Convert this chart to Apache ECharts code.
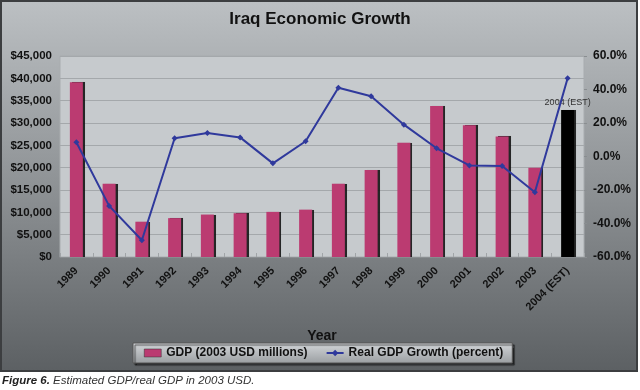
<!DOCTYPE html>
<html>
<head>
<meta charset="utf-8">
<script src="https://cdn.jsdelivr.net/npm/echarts@6/dist/echarts.min.js"></script>
<style>
html,body{margin:0;padding:0;background:#fff;}
#c{width:640px;height:390px;}
</style>
</head>
<body>
<div id="c"></div>
<script>
const categories = ['1989','1990','1991','1992','1993','1994','1995','1996','1997','1998','1999','2000','2001','2002','2003','2004 (EST)'];
const gdpValues = [39100, 16400, 7900, 8700, 9500, 9800, 10100, 10600, 16400, 19500, 25600, 33800, 29500, 27000, 20000, 32900];
const growthValues = [8.5, -29.5, -50.0, 10.9, 14.0, 11.4, -4.1, 9.1, 41.0, 36.0, 19.0, 4.9, -5.3, -5.7, -21.4, 46.7];
const leftTicks = {min: 0, max: 45000, interval: 5000};
const rightTicks = {min: -60, max: 60, interval: 20};
const captionBold = 'Figure 6.';
const captionText = ' Estimated GDP/real GDP in 2003 USD.';

const FONT = 'Liberation Sans, Arial, sans-serif';
const chart = echarts.init(document.getElementById('c'), null, {renderer: 'canvas'});

const barData = gdpValues.map((v, i) => {
  if (i === gdpValues.length - 1) {
    return {
      value: v,
      itemStyle: {color: '#000000'},
      label: {show: true, position: 'top', distance: 3, formatter: categories[i],
        fontSize: 9, color: '#333', fontFamily: FONT}
    };
  }
  return v;
});

const option = {
  animation: false,
  graphic: [
    {type: 'rect', z: -10, shape: {x: 1, y: 1, width: 636, height: 370},
      style: {
        fill: new echarts.graphic.LinearGradient(0, 0, 0, 1, [
          {offset: 0, color: '#bcc0c3'},
          {offset: 0.5, color: '#8e9295'},
          {offset: 1, color: '#5c6063'}
        ]),
        stroke: '#3c3e40', lineWidth: 2
      }},
    {type: 'text', left: 2, top: 375, z: 10,
      style: {
        text: '{b|' + captionBold + '}{n|' + captionText + '}',
        rich: {
          b: {fontFamily: FONT, fontSize: 11.5, fontWeight: 'bold', fontStyle: 'italic', fill: '#222'},
          n: {fontFamily: FONT, fontSize: 11.5, fontStyle: 'italic', fill: '#333'}
        }
      }}
  ],
  title: {
    text: 'Iraq Economic Growth', left: 'center', top: 6,
    textStyle: {fontFamily: FONT, fontSize: 17, fontWeight: 'bold', color: '#111'}
  },
  legend: {
    left: 133, top: 343, width: 500, orient: 'horizontal',
    padding: [4, 9, 4, 11],
    itemGap: 18, itemWidth: 17, itemHeight: 8,
    backgroundColor: new echarts.graphic.LinearGradient(0, 0, 0, 1, [
      {offset: 0, color: '#d4d7da'},
      {offset: 1, color: '#9a9ea1'}
    ]),
    borderColor: '#555', borderWidth: 1,
    shadowColor: 'rgba(0,0,0,0.6)', shadowOffsetX: 2, shadowOffsetY: 2, shadowBlur: 1,
    textStyle: {fontFamily: FONT, fontSize: 12, fontWeight: 'bold', color: '#111'},
    data: [
      {name: 'GDP (2003 USD millions)', icon: 'rect', itemStyle: {color: '#bb3b71', borderColor: '#333', borderWidth: 0.5}},
      {name: 'Real GDP Growth (percent)'}
    ]
  },
  grid: {left: 60, right: 56, top: 56, bottom: 133,
    show: true, backgroundColor: '#c6cacd', borderColor: '#a8acaf', borderWidth: 1},
  xAxis: {
    type: 'category', data: categories,
    name: 'Year', nameLocation: 'middle', nameGap: 72,
    nameTextStyle: {fontFamily: FONT, fontSize: 14, fontWeight: 'bold', color: '#111'},
    axisLine: {show: true, lineStyle: {color: '#8a8e91'}},
    axisTick: {show: true, inside: true, length: 4, lineStyle: {color: '#a0a4a7'}},
    axisLabel: {rotate: 45, interval: 0, fontFamily: FONT, fontSize: 11, fontWeight: 'bold', color: '#111', margin: 12}
  },
  yAxis: [
    {
      type: 'value', min: leftTicks.min, max: leftTicks.max, interval: leftTicks.interval,
      axisLine: {show: false}, axisTick: {show: false},
      splitLine: {lineStyle: {color: '#a4a8ab', width: 1}},
      axisLabel: {fontFamily: FONT, fontSize: 11.5, fontWeight: 'bold', color: '#111', margin: 8,
        formatter: v => '$' + v.toLocaleString('en-US')}
    },
    {
      type: 'value', min: rightTicks.min, max: rightTicks.max, interval: rightTicks.interval,
      position: 'right',
      axisLine: {show: false},
      axisTick: {show: true, length: 3, lineStyle: {color: '#8a8e91'}},
      splitLine: {show: false},
      axisLabel: {fontFamily: FONT, fontSize: 12, fontWeight: 'bold', color: '#111', margin: 9,
        formatter: v => v.toFixed(1) + '%'}
    }
  ],
  series: [
    {
      name: 'GDP (2003 USD millions)', type: 'bar', yAxisIndex: 0,
      data: barData, barWidth: 13,
      itemStyle: {color: '#bb3b71', shadowColor: 'rgba(20,20,20,0.9)', shadowOffsetX: 2, shadowOffsetY: 0, shadowBlur: 0.5}
    },
    {
      name: 'Real GDP Growth (percent)', type: 'line', yAxisIndex: 1,
      data: growthValues, symbol: 'diamond', symbolSize: 6,
      lineStyle: {color: '#2f399c', width: 2},
      itemStyle: {color: '#2f399c'},
      z: 5
    }
  ]
};
chart.setOption(option);
</script>
</body>
</html>
